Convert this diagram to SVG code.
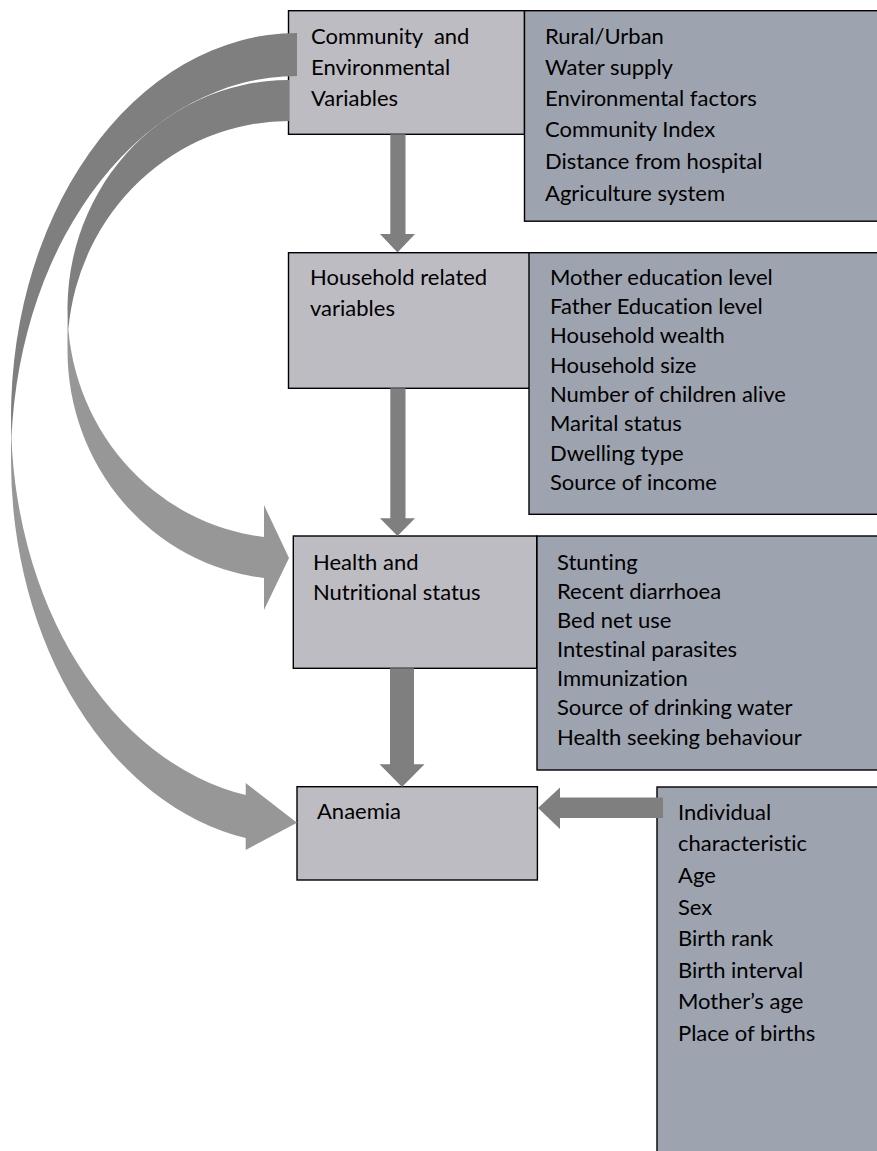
<svg xmlns="http://www.w3.org/2000/svg" width="877" height="1151" viewBox="0 0 877 1151">
<style>
  .lbox { fill: #BEBCC3; stroke: #000; stroke-width: 1.4; }
  .rbox { fill: #9EA4AF; stroke: #000; stroke-width: 1.4; }
  .t { font-family: Lato, "Liberation Sans", sans-serif; font-size: 22px; fill: #000; font-variant-ligatures: none; }
  .sa { fill: #7F7F7F; }
  .back { fill: #7F7F7F; }
  .front { fill: #979797; }
</style>
<rect width="877" height="1151" fill="#fff"/>

<g id="node-community">
  <rect class="lbox" x="288.5" y="10.7" width="236" height="123.6"/>
  <text class="t" x="311" y="44" xml:space="preserve">Community  and</text>
  <text class="t" x="311" y="75">Environmental</text>
  <text class="t" x="311" y="106">Variables</text>
</g>
<g id="node-community-list">
  <rect class="rbox" x="524.5" y="10.7" width="360" height="210.5"/>
  <text class="t" x="545" y="44">Rural/Urban</text>
  <text class="t" x="545" y="75">Water supply</text>
  <text class="t" x="545" y="106">Environmental factors</text>
  <text class="t" x="545" y="137">Community Index</text>
  <text class="t" x="545" y="169">Distance from hospital</text>
  <text class="t" x="545" y="201">Agriculture system</text>
</g>

<g id="node-household">
  <rect class="lbox" x="288.5" y="252.7" width="242.5" height="135.6"/>
  <text class="t" x="310" y="285">Household related</text>
  <text class="t" x="310" y="316">variables</text>
</g>
<g id="node-household-list">
  <rect class="rbox" x="529" y="252.7" width="360" height="261.6"/>
  <text class="t" x="550" y="285">Mother education level</text>
  <text class="t" x="550" y="314">Father Education level</text>
  <text class="t" x="550" y="343">Household wealth</text>
  <text class="t" x="550" y="373">Household size</text>
  <text class="t" x="550" y="402">Number of children alive</text>
  <text class="t" x="550" y="431">Marital status</text>
  <text class="t" x="550" y="461">Dwelling type</text>
  <text class="t" x="550" y="490">Source of income</text>
</g>

<g id="node-health">
  <rect class="lbox" x="293.3" y="536" width="243.4" height="132.3"/>
  <text class="t" x="313" y="570">Health and</text>
  <text class="t" x="313" y="600">Nutritional status</text>
</g>
<g id="node-health-list">
  <rect class="rbox" x="537" y="536" width="360" height="234"/>
  <text class="t" x="557" y="570">Stunting</text>
  <text class="t" x="557" y="599">Recent diarrhoea</text>
  <text class="t" x="557" y="628">Bed net use</text>
  <text class="t" x="557" y="657">Intestinal parasites</text>
  <text class="t" x="557" y="686">Immunization</text>
  <text class="t" x="557" y="715">Source of drinking water</text>
  <text class="t" x="557" y="745">Health seeking behaviour</text>
</g>

<g id="node-anaemia">
  <rect class="lbox" x="297" y="786.7" width="240.4" height="93.3"/>
  <text class="t" x="317" y="819">Anaemia</text>
</g>
<g id="node-individual">
  <rect class="rbox" x="657" y="787" width="240" height="380"/>
  <text class="t" x="678" y="820">Individual</text>
  <text class="t" x="678" y="851">characteristic</text>
  <text class="t" x="678" y="883">Age</text>
  <text class="t" x="678" y="915">Sex</text>
  <text class="t" x="678" y="946">Birth rank</text>
  <text class="t" x="678" y="978">Birth interval</text>
  <text class="t" x="678" y="1009">Mother’s age</text>
  <text class="t" x="678" y="1041">Place of births</text>
</g>

<g id="connectors">
  <path class="sa" d="M390.3,134.3 H405.5 V234 H415 L397.5,252.5 L380,234 H390.3 Z"/>
  <path class="sa" d="M390.3,388.3 H405.5 V518.3 H415 L397.5,536 L380,518.3 H390.3 Z"/>
  <path class="sa" d="M390,668.3 H414 V764.3 H424.5 L402,787 L379.6,764.3 H390 Z"/>
  <path class="sa" d="M663,797.5 V818 H560 V829 L538,808 L560,787.5 V797.5 Z"/>

  <path class="front" d="M11,417 A286 384 0 0 0 245.7,795 L245.7,783 L297,822.7 L245.7,850 L245.7,838 A286 384 0 0 1 11,460 Z"/>
  <path class="back" d="M297,33 A286 384 0 0 0 11.45,438.5 A286 384 0 0 1 297,76 Z"/>

  <path class="front" d="M67.5,309 A221.5 229 0 0 0 264,537 L264,505 L289,558 L264,610 L264,578 A221.5 229 0 0 1 67.5,350 Z"/>
  <path class="back" d="M289,80 A221.5 229 0 0 0 68.4,329.5 A221.5 229 0 0 1 289,121 Z"/>
</g>
</svg>
